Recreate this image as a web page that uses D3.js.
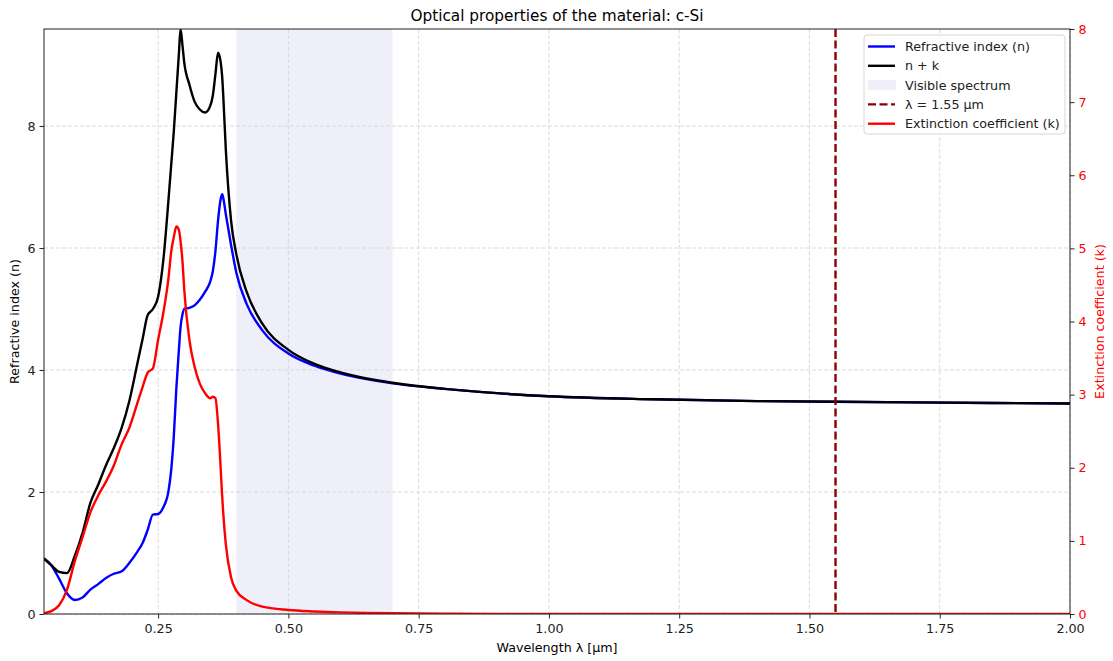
<!DOCTYPE html>
<html lang="en">
<head>
<meta charset="UTF-8">
<title>Optical properties of the material: c-Si</title>
<script src="https://d3js.org/d3.v7.min.js"></script>
<style>
  body { margin: 0; background: #fff; }
  svg { display: block; font-family: "DejaVu Sans", sans-serif; }
</style>
</head>
<body>
<svg id="chart" width="1113" height="661"></svg>
<script>
// wavelength grid (um)
const wavelength = [0.031, 0.045, 0.06, 0.075, 0.09, 0.105, 0.12, 0.135, 0.15, 0.165, 0.18, 0.195,
  0.21, 0.22, 0.23, 0.24, 0.25, 0.26, 0.27, 0.275, 0.28, 0.285, 0.29, 0.293, 0.297, 0.30,
  0.31, 0.32, 0.33, 0.34, 0.35, 0.355, 0.36, 0.365, 0.37, 0.373, 0.375, 0.38, 0.39, 0.40,
  0.42, 0.45, 0.50, 0.55, 0.60, 0.65, 0.70, 0.80, 0.90, 1.00, 1.20, 1.40, 1.55, 1.70, 2.00];

// refractive index n
const nValues = [0.91, 0.80, 0.58, 0.34, 0.23, 0.27, 0.40, 0.49, 0.59, 0.66, 0.70, 0.84,
  1.02, 1.16, 1.38, 1.63, 1.64, 1.75, 2.02, 2.35, 2.90, 3.70, 4.35, 4.70, 4.92, 5.00,
  5.02, 5.06, 5.15, 5.28, 5.45, 5.62, 5.95, 6.45, 6.80, 6.88, 6.82, 6.55, 6.05, 5.60,
  5.08, 4.65, 4.27, 4.07, 3.94, 3.85, 3.78, 3.69, 3.62, 3.57, 3.52, 3.49, 3.48, 3.47, 3.45];

// extinction coefficient k
const kValues = [0.01, 0.04, 0.12, 0.33, 0.72, 1.05, 1.39, 1.62, 1.81, 2.03, 2.32, 2.55,
  2.88, 3.10, 3.30, 3.36, 3.75, 4.12, 4.60, 4.95, 5.15, 5.30, 5.25, 5.10, 4.80, 4.45,
  3.75, 3.38, 3.15, 3.02, 2.95, 2.97, 2.95, 2.60, 2.00, 1.60, 1.38, 0.95, 0.50, 0.32,
  0.19, 0.10, 0.055, 0.035, 0.022, 0.015, 0.010, 0.004, 0.001, 0, 0, 0, 0, 0, 0];

// n + k as drawn
const nPlusK = [0.91, 0.80, 0.69, 0.67, 0.95, 1.33, 1.82, 2.12, 2.44, 2.72, 3.05, 3.50,
  4.10, 4.50, 4.90, 5.00, 5.20, 5.80, 6.80, 7.35, 7.90, 8.55, 9.20, 9.59, 9.30, 9.05,
  8.68, 8.40, 8.27, 8.22, 8.33, 8.50, 8.85, 9.20, 9.05, 8.80, 8.50, 7.60, 6.45, 5.90,
  5.28, 4.76, 4.33, 4.10, 3.96, 3.86, 3.79, 3.69, 3.62, 3.57, 3.52, 3.49, 3.48, 3.47, 3.45];

const visibleRange = [0.40, 0.70];
const markerWavelength = 1.55;
const xTicks = [0.25, 0.50, 0.75, 1.00, 1.25, 1.50, 1.75, 2.00];
const nTicks = [0, 2, 4, 6, 8];
const kTicks = [0, 1, 2, 3, 4, 5, 6, 7, 8];

const svg = d3.select("#chart");
const L = 44, R = 1070, T = 29, B = 614;

const x = d3.scaleLinear().domain([0.031, 2.0]).range([L, R]);
const yN = d3.scaleLinear().domain([0, d3.max(nPlusK)]).range([B, T]);
const yK = d3.scaleLinear().domain([0, 8]).range([B, T]);

svg.append("defs").append("clipPath").attr("id", "clip")
  .append("rect").attr("x", L).attr("y", T).attr("width", R - L).attr("height", B - T);

// visible band
svg.append("rect")
  .attr("x", x(visibleRange[0])).attr("y", T)
  .attr("width", x(visibleRange[1]) - x(visibleRange[0])).attr("height", B - T)
  .attr("fill", "#efeffa");

// grid
const grid = svg.append("g").attr("stroke", "#d2d2d2").attr("stroke-width", 0.8)
  .attr("stroke-dasharray", "4,2");
grid.selectAll(".gx").data(xTicks).enter().append("line")
  .attr("x1", d => x(d)).attr("x2", d => x(d)).attr("y1", T).attr("y2", B);
grid.selectAll(".gy").data(nTicks).enter().append("line")
  .attr("x1", L).attr("x2", R).attr("y1", d => yN(d)).attr("y2", d => yN(d));

const plot = svg.append("g").attr("clip-path", "url(#clip)");
const lineN = d3.line().x((d, i) => x(wavelength[i])).y(d => yN(d)).curve(d3.curveMonotoneX);
const lineK = d3.line().x((d, i) => x(wavelength[i])).y(d => yK(d)).curve(d3.curveMonotoneX);

const lw = 2.4;
plot.append("path").datum(nValues).attr("d", lineN)
  .attr("fill", "none").attr("stroke", "#0000ff").attr("stroke-width", lw);
plot.append("path").datum(nPlusK).attr("d", lineN)
  .attr("fill", "none").attr("stroke", "#000").attr("stroke-width", lw);
plot.append("line")
  .attr("x1", x(markerWavelength)).attr("x2", x(markerWavelength)).attr("y1", T).attr("y2", B)
  .attr("stroke", "#8b0000").attr("stroke-width", lw).attr("stroke-dasharray", "8,3.5");
plot.append("path").datum(kValues).attr("d", lineK)
  .attr("fill", "none").attr("stroke", "#ff0000").attr("stroke-width", lw);

// axes
const fs = "12.7px";
const gx = svg.append("g").attr("transform", `translate(0,${B})`)
  .call(d3.axisBottom(x).tickValues(xTicks).tickFormat(d3.format(".2f")).tickSize(4.5).tickPadding(4));
const gl = svg.append("g").attr("transform", `translate(${L},0)`)
  .call(d3.axisLeft(yN).tickValues(nTicks).tickFormat(d3.format("d")).tickSize(4.5).tickPadding(4));
const gr = svg.append("g").attr("transform", `translate(${R},0)`)
  .call(d3.axisRight(yK).tickValues(kTicks).tickFormat(d3.format("d")).tickSize(4.5).tickPadding(4));
[gx, gl, gr].forEach(g => {
  g.select(".domain").remove();
  g.selectAll("text").attr("font-size", fs).attr("font-family", "DejaVu Sans").attr("fill", "#222");
  g.selectAll("line").attr("stroke", "#222");
});
gr.selectAll("text").attr("fill", "#ff0000");
gx.selectAll("text").attr("dy", "0.85em");

svg.append("rect").attr("x", L).attr("y", T).attr("width", R - L).attr("height", B - T)
  .attr("fill", "none").attr("stroke", "#222").attr("stroke-width", 1);

svg.append("text").attr("x", (L + R) / 2).attr("y", 21).attr("text-anchor", "middle")
  .attr("font-size", "15.3px").attr("fill", "#000").text("Optical properties of the material: c-Si");
svg.append("text").attr("x", (L + R) / 2).attr("y", 652).attr("text-anchor", "middle")
  .attr("font-size", fs).attr("fill", "#000").text("Wavelength λ [µm]");
svg.append("text").attr("transform", `translate(19,${(T + B) / 2}) rotate(-90)`)
  .attr("text-anchor", "middle").attr("font-size", fs).attr("fill", "#000").text("Refractive index (n)");
svg.append("text").attr("transform", `translate(1104,${(T + B) / 2}) rotate(-90)`)
  .attr("text-anchor", "middle").attr("font-size", fs).attr("fill", "#ff0000").text("Extinction coefficient (k)");

// legend
const legendItems = [
  { label: "Refractive index (n)", type: "line", color: "#0000ff" },
  { label: "n + k", type: "line", color: "#000" },
  { label: "Visible spectrum", type: "patch", color: "#efeffa" },
  { label: "λ = 1.55 µm", type: "dash", color: "#8b0000" },
  { label: "Extinction coefficient (k)", type: "line", color: "#ff0000" }
];
const lg = svg.append("g").attr("transform", "translate(864,35)");
lg.append("rect").attr("width", 201).attr("height", 99).attr("rx", 3)
  .attr("fill", "#fff").attr("fill-opacity", 0.8).attr("stroke", "#d6d6d6");
legendItems.forEach((d, i) => {
  const yy = 11.5 + i * 19.3;
  if (d.type === "patch") {
    lg.append("rect").attr("x", 4).attr("y", yy - 5).attr("width", 28).attr("height", 10).attr("fill", d.color);
  } else {
    lg.append("line").attr("x1", 4).attr("x2", 31).attr("y1", yy).attr("y2", yy)
      .attr("stroke", d.color).attr("stroke-width", lw)
      .attr("stroke-dasharray", d.type === "dash" ? "8,3.5" : null);
  }
  lg.append("text").attr("x", 41).attr("y", yy).attr("dy", "0.35em")
    .attr("font-size", fs).attr("fill", "#222").text(d.label);
});
</script>
</body>
</html>
